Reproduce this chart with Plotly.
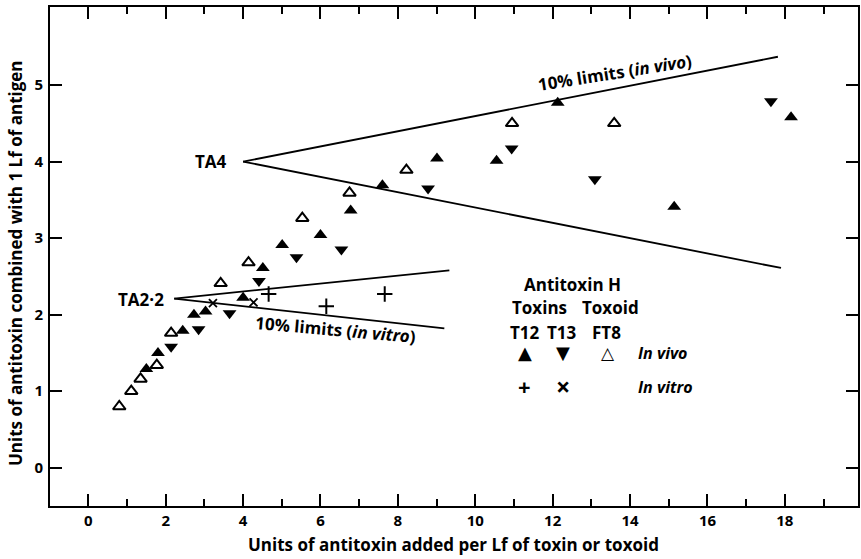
import plotly.graph_objects as go

# ---- data ----
t12_vivo_x = [1.50, 1.80, 2.44, 2.73, 3.03, 4.00, 4.51, 5.01, 6.00, 6.78, 7.60, 9.01, 10.55, 12.13, 15.14, 18.16]
t12_vivo_y = [1.29, 1.50, 1.79, 2.00, 2.04, 2.22, 2.61, 2.91, 3.04, 3.36, 3.69, 4.04, 4.01, 4.77, 3.41, 4.58]

t13_vivo_x = [2.14, 2.85, 3.65, 4.41, 5.38, 6.54, 8.78, 10.94, 13.09, 17.64]
t13_vivo_y = [1.58, 1.81, 2.02, 2.44, 2.75, 2.85, 3.65, 4.17, 3.77, 4.79]

ft8_vivo_x = [0.80, 1.11, 1.35, 1.77, 2.14, 3.42, 4.14, 5.53, 6.75, 8.22, 10.95, 13.59]
ft8_vivo_y = [0.80, 1.00, 1.16, 1.34, 1.76, 2.41, 2.68, 3.26, 3.59, 3.89, 4.50, 4.50]

t12_vitro_x = [4.66, 6.15, 7.66]
t12_vitro_y = [2.27, 2.11, 2.27]

t13_vitro_x = [3.22, 4.27]
t13_vitro_y = [2.15, 2.16]

# 10% limit lines (apex, upper end, lower end)
vivo_upper_x = [4.0, 17.82]
vivo_upper_y = [4.0, 5.37]
vivo_lower_x = [4.0, 17.9]
vivo_lower_y = [4.0, 2.61]
vitro_upper_x = [2.22, 9.33]
vitro_upper_y = [2.21, 2.58]
vitro_lower_x = [2.22, 9.2]
vitro_lower_y = [2.21, 1.82]

x_tickvals = [0, 2, 4, 6, 8, 10, 12, 14, 16, 18]
y_tickvals = [0, 1, 2, 3, 4, 5]

FONT = "Open Sans"
BLACK = "black"

fig = go.Figure()

for lx, ly in [(vivo_upper_x, vivo_upper_y), (vivo_lower_x, vivo_lower_y),
               (vitro_upper_x, vitro_upper_y), (vitro_lower_x, vitro_lower_y)]:
    fig.add_trace(go.Scatter(x=lx, y=ly, mode="lines",
                             line=dict(color=BLACK, width=1.8), showlegend=False,
                             hoverinfo="skip"))

fig.add_trace(go.Scatter(x=t12_vivo_x, y=t12_vivo_y, mode="markers", name="T12 in vivo",
                         marker=dict(symbol="triangle-up", size=12, color=BLACK)))
fig.add_trace(go.Scatter(x=t13_vivo_x, y=t13_vivo_y, mode="markers", name="T13 in vivo",
                         marker=dict(symbol="triangle-down", size=12, color=BLACK)))
fig.add_trace(go.Scatter(x=ft8_vivo_x, y=ft8_vivo_y, mode="markers", name="FT8 in vivo",
                         marker=dict(symbol="triangle-up-open", size=11, color=BLACK,
                                     line=dict(width=2, color=BLACK))))
fig.add_trace(go.Scatter(x=t12_vitro_x, y=t12_vitro_y, mode="markers", name="T12 in vitro",
                         marker=dict(symbol="cross-thin", size=11, color=BLACK,
                                     line=dict(width=2, color=BLACK))))
fig.add_trace(go.Scatter(x=t13_vitro_x, y=t13_vitro_y, mode="markers", name="T13 in vitro",
                         marker=dict(symbol="x-thin", size=8, color=BLACK,
                                     line=dict(width=1.8, color=BLACK))))

def ann(text, x, y, size=17, xanchor="center", angle=0, weight="bold", family=FONT):
    fig.add_annotation(x=x, y=y, xref="x", yref="y", text=text, showarrow=False,
                       xanchor=xanchor, yanchor="middle", textangle=angle,
                       font=dict(family=family, size=size, color=BLACK, weight=weight))

ann("TA4", 3.63, 4.0, xanchor="right")
ann("TA2·2", 2.0, 2.2, xanchor="right")
ann("10% limits (<i>in vivo</i>)", 13.6, 5.17, angle=-9)
ann("10% limits (<i>in vitro</i>)", 6.39, 1.80, angle=5)

# legend block (text)
ann("Antitoxin H", 12.5, 2.40)
ann("Toxins", 11.65, 2.09)
ann("Toxoid", 13.5, 2.09)
ann("T12", 11.28, 1.77)
ann("T13", 12.24, 1.77)
ann("FT8", 13.4, 1.77)
ann("▲", 11.28, 1.50, size=18, family="DejaVu Sans")
ann("▼", 12.26, 1.50, size=18, family="DejaVu Sans")
ann("△", 13.42, 1.50, size=17, family="DejaVu Sans")
ann("<i>In vivo</i>", 14.15, 1.50, xanchor="left", size=16)
ann("+", 11.28, 1.07, size=22)
ann("×", 12.26, 1.07, size=25)
ann("<i>In vitro</i>", 14.15, 1.06, xanchor="left", size=16)

# axis titles as paper-positioned annotations
fig.add_annotation(x=0.499, y=-0.078, xref="paper", yref="paper", showarrow=False,
                   text="Units of antitoxin added per Lf of toxin or toxoid",
                   xanchor="center", yanchor="middle",
                   font=dict(family=FONT, size=17, color=BLACK, weight="bold"))
fig.add_annotation(x=-0.042, y=0.487, xref="paper", yref="paper", showarrow=False,
                   text="Units of antitoxin combined with 1 Lf of antigen",
                   xanchor="center", yanchor="middle", textangle=-90,
                   font=dict(family=FONT, size=17, color=BLACK, weight="bold"))

axis_common = dict(showline=True, linecolor=BLACK, linewidth=2, mirror="ticks",
                   ticks="inside", ticklen=12, tickwidth=1.8, tickcolor=BLACK,
                   showgrid=False, zeroline=False, automargin=False,
                   tickfont=dict(family=FONT, size=15, color=BLACK, weight="bold"))

fig.update_xaxes(range=[-0.99, 19.89], tickvals=x_tickvals,
                 minor=dict(dtick=1, tick0=0, ticks="inside", ticklen=7, tickwidth=1.8,
                            tickcolor=BLACK, showgrid=False),
                 ticklabelstandoff=0, **axis_common)
fig.update_yaxes(range=[-0.5, 6.02], tickvals=y_tickvals,
                 ticklabelstandoff=2, **axis_common)

fig.update_layout(width=861, height=559, margin=dict(l=50, r=3, t=7, b=53),
                  plot_bgcolor="white", paper_bgcolor="white", showlegend=False)

fig.write_html("out.html", config={"displayModeBar": False},
               post_script="document.body.style.margin='0';document.body.style.overflow='hidden';")
